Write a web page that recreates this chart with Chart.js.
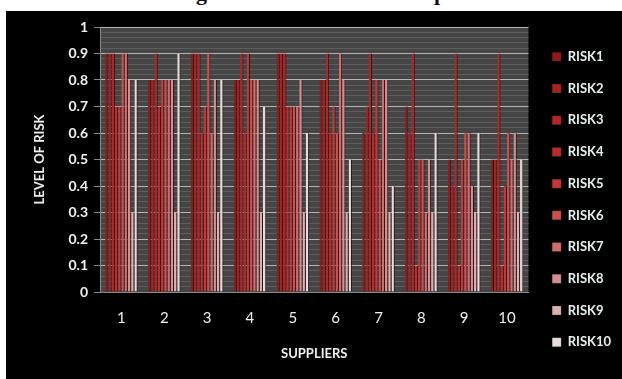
<!DOCTYPE html>
<html lang="en">
<head>
    <meta charset="UTF-8">
    <title>Level of Risk by Supplier</title>
    <script src="https://cdn.jsdelivr.net/npm/chart.js"></script>
    <style>
        body { margin: 0; background: #fff; width: 622px; height: 379px; overflow: hidden; position: relative; }
        /* caption of the figure, cut off by the crop, only descenders visible */
        .caption { position: absolute; left: 0; top: 0; width: 622px; height: 11px; overflow: hidden; }
        .caption span { position: absolute; top: -18px; font: bold 22px "Liberation Serif", serif; color: #111; line-height: 22px; }
        #box { position: absolute; left: 6px; top: 11px; width: 616px; height: 368px; background: #000; }
    </style>
</head>
<body>
    <div class="caption"><span style="left:196px">g</span><span style="left:434px">p</span></div>
    <div id="box"><canvas id="riskChart" width="616" height="368"></canvas></div>

    <script>
        const suppliers = ['1', '2', '3', '4', '5', '6', '7', '8', '9', '10'];
        const riskNames = ['RISK1', 'RISK2', 'RISK3', 'RISK4', 'RISK5', 'RISK6', 'RISK7', 'RISK8', 'RISK9', 'RISK10'];

        // level of risk per supplier, one array per risk
        const risk1  = [0.9, 0.8, 0.9, 0.8, 0.9, 0.8, 0.6, 0.7, 0.5, 0.5];
        const risk2  = [0.9, 0.8, 0.9, 0.8, 0.9, 0.8, 0.7, 0.6, 0.4, 0.5];
        const risk3  = [0.9, 0.9, 0.9, 0.9, 0.9, 0.9, 0.9, 0.9, 0.9, 0.9];
        const risk4  = [0.7, 0.7, 0.6, 0.6, 0.7, 0.6, 0.6, 0.1, 0.1, 0.1];
        const risk5  = [0.7, 0.8, 0.7, 0.9, 0.7, 0.7, 0.8, 0.5, 0.5, 0.4];
        const risk6  = [0.9, 0.8, 0.9, 0.8, 0.7, 0.6, 0.5, 0.5, 0.6, 0.6];
        const risk7  = [0.9, 0.8, 0.6, 0.8, 0.7, 0.9, 0.8, 0.3, 0.6, 0.5];
        const risk8  = [0.8, 0.8, 0.8, 0.8, 0.8, 0.8, 0.8, 0.5, 0.4, 0.6];
        const risk9  = [0.3, 0.3, 0.3, 0.3, 0.3, 0.3, 0.3, 0.3, 0.3, 0.3];
        const risk10 = [0.8, 0.9, 0.8, 0.7, 0.6, 0.5, 0.4, 0.6, 0.6, 0.5];

        const riskValues = [risk1, risk2, risk3, risk4, risk5, risk6, risk7, risk8, risk9, risk10];
        const riskColors = ['#8e1c1c', '#a82222', '#b22626', '#bb2c2c', '#c43838', '#cc5050',
                            '#d06c6c', '#d49090', '#d8b2b2', '#e6dcdc'];

        const datasets = riskNames.map((name, i) => ({
            label: name,
            data: riskValues[i],
            backgroundColor: riskColors[i],
            borderColor: 'rgba(40, 0, 0, 0.75)',
            borderWidth: { left: 0, right: 1, top: 0, bottom: 0 },
            borderSkipped: false,
            categoryPercentage: 0.76,
            barPercentage: 1
        }));

        // grey plot background
        const plotBg = {
            id: 'plotBg',
            beforeDraw(chart) {
                const { ctx, chartArea: a } = chart;
                ctx.save();
                ctx.fillStyle = '#454545';
                ctx.fillRect(a.left, a.top, a.right - a.left, a.bottom - a.top);
                ctx.restore();
            }
        };

        const isMajor = v => Math.abs(v * 10 - Math.round(v * 10)) < 1e-6;

        new Chart(document.getElementById('riskChart'), {
            type: 'bar',
            data: { labels: suppliers, datasets: datasets },
            plugins: [plotBg],
            options: {
                responsive: false,
                animation: false,
                layout: { padding: { top: 16, right: 1, bottom: 7, left: 0 } },
                plugins: {
                    tooltip: { enabled: false },
                    legend: {
                        position: 'right',
                        labels: {
                            color: '#e6f0f0',
                            font: { family: 'Lato', size: 13, weight: 'bold' },
                            boxWidth: 9,
                            boxHeight: 9,
                            padding: 18.7
                        }
                    }
                },
                scales: {
                    x: {
                        grid: { display: false, drawTicks: false },
                        border: { color: '#888' },
                        ticks: { color: '#f0f0f0', font: { family: 'Lato', size: 15 }, padding: 17 },
                        title: {
                            display: true,
                            text: 'SUPPLIERS',
                            color: '#f0f0f0',
                            font: { family: 'Lato', size: 13, weight: 'bold' },
                            padding: { top: 0, bottom: 10 }
                        },
                        afterFit(axis) { axis.height = 80; }
                    },
                    y: {
                        min: 0,
                        max: 1,
                        afterBuildTicks(axis) {
                            const t = [];
                            for (let i = 0; i <= 50; i++) t.push({ value: i / 50 });
                            axis.ticks = t;
                        },
                        grid: {
                            color: c => isMajor(c.tick.value) ? '#b4b4b4' : '#5e5e5e',
                            tickColor: c => isMajor(c.tick.value) ? '#888' : 'rgba(0,0,0,0)',
                            tickLength: 6
                        },
                        border: { color: '#888' },
                        ticks: {
                            autoSkip: false,
                            color: '#f0f0f0',
                            font: { family: 'Lato', size: 14, weight: 'bold' },
                            padding: 6,
                            callback: v => isMajor(v) ? String(Math.round(v * 10) / 10) : ''
                        },
                        title: {
                            display: true,
                            text: 'LEVEL OF RISK',
                            color: '#f0f0f0',
                            font: { family: 'Lato', size: 13, weight: 'bold' },
                            padding: { top: 26, bottom: 0 }
                        },
                        afterFit(axis) { axis.width = 94; }
                    },
                    // empty right axis, only keeps a gap between the plot and the legend
                    gap: {
                        type: 'linear',
                        position: 'right',
                        display: true,
                        grid: { drawOnChartArea: false, drawTicks: false },
                        border: { display: false },
                        ticks: { display: false },
                        afterFit(axis) { axis.width = 5; }
                    }
                }
            }
        });
    </script>
</body>
</html>
